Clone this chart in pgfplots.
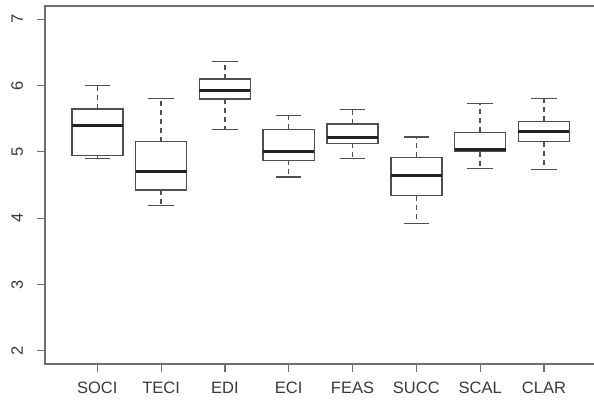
\documentclass[border=0pt]{standalone}
\usepackage{pgfplots}
\pgfplotsset{compat=1.18}
\usepgfplotslibrary{statistics}
\usepackage{fontspec}
\setmainfont{Liberation Sans}
\definecolor{framegray}{HTML}{6E6E6E}
\definecolor{boxgray}{HTML}{505050}
\definecolor{medgray}{HTML}{222222}
\definecolor{textgray}{HTML}{3A3A3A}
\pgfplotsset{
  boxplot/draw/lower whisker/.code={%
    \draw[draw=boxgray, line width=1.5pt, dash pattern=on 5pt off 4pt]
      (boxplot cs:\pgfplotsboxplotvalue{lower quartile}) -- (boxplot cs:\pgfplotsboxplotvalue{lower whisker});
    \draw[draw=boxgray, line width=1.5pt]
      (boxplot whisker cs:\pgfplotsboxplotvalue{lower whisker},0) -- (boxplot whisker cs:\pgfplotsboxplotvalue{lower whisker},1);
  },
  boxplot/draw/upper whisker/.code={%
    \draw[draw=boxgray, line width=1.5pt, dash pattern=on 5pt off 4pt]
      (boxplot cs:\pgfplotsboxplotvalue{upper quartile}) -- (boxplot cs:\pgfplotsboxplotvalue{upper whisker});
    \draw[draw=boxgray, line width=1.5pt]
      (boxplot whisker cs:\pgfplotsboxplotvalue{upper whisker},0) -- (boxplot whisker cs:\pgfplotsboxplotvalue{upper whisker},1);
  },
}
\begin{document}
\begin{tikzpicture}[x=1pt,y=1pt]
\begin{axis}[
  at={(45pt,40pt)}, anchor=south west,
  scale only axis, width=553pt, height=358pt,
  xmin=0.18, xmax=8.847, ymin=1.8, ymax=7.2,
  xtick={1,2,3,4,5,6,7,8},
  xticklabels={SOCI,TECI,EDI,ECI,FEAS,SUCC,SCAL,CLAR},
  ytick={2,3,4,5,6,7},
  tick align=outside, major tick length=8pt,
  xtick pos=bottom, ytick pos=left,
  axis line style={draw=framegray, line width=1.5pt},
  every tick/.style={draw=framegray, line width=1.2pt},
  /pgf/number format/assume math mode=true,
  ticklabel style={font=\fontsize{16.5}{19}\selectfont, text=textgray},
  yticklabel style={rotate=90, anchor=base, inner sep=0pt, yshift=14pt},
  xticklabel style={anchor=north, inner sep=0pt, yshift=-9.5pt},
  boxplot/draw direction=y,
  boxplot/box extend=0.8,
  boxplot/whisker extend=0.4,
  boxplot/every box/.style={draw=boxgray, line width=1.5pt},
  boxplot/every median/.style={draw=medgray, line width=3pt},
]
\addplot[boxgray, boxplot prepared={draw position=1, lower whisker=4.897, lower quartile=4.943, median=5.39, upper quartile=5.647, upper whisker=6.00}] coordinates {};
\addplot[boxgray, boxplot prepared={draw position=2, lower whisker=4.188, lower quartile=4.425, median=4.70, upper quartile=5.154, upper whisker=5.803}] coordinates {};
\addplot[boxgray, boxplot prepared={draw position=3, lower whisker=5.34, lower quartile=5.798, median=5.929, upper quartile=6.10, upper whisker=6.366}] coordinates {};
\addplot[boxgray, boxplot prepared={draw position=4, lower whisker=4.62, lower quartile=4.872, median=5.008, upper quartile=5.34, upper whisker=5.546}] coordinates {};
\addplot[boxgray, boxplot prepared={draw position=5, lower whisker=4.90, lower quartile=5.129, median=5.219, upper quartile=5.42, upper whisker=5.642}] coordinates {};
\addplot[boxgray, boxplot prepared={draw position=6, lower whisker=3.917, lower quartile=4.339, median=4.641, upper quartile=4.918, upper whisker=5.224}] coordinates {};
\addplot[boxgray, boxplot prepared={draw position=7, lower whisker=4.752, lower quartile=5.003, median=5.033, upper quartile=5.295, upper whisker=5.732}] coordinates {};
\addplot[boxgray, boxplot prepared={draw position=8, lower whisker=4.731, lower quartile=5.154, median=5.305, upper quartile=5.461, upper whisker=5.803}] coordinates {};
\end{axis}
\pgfresetboundingbox
\useasboundingbox (0,0) rectangle (594,404);
\end{tikzpicture}
\end{document}
